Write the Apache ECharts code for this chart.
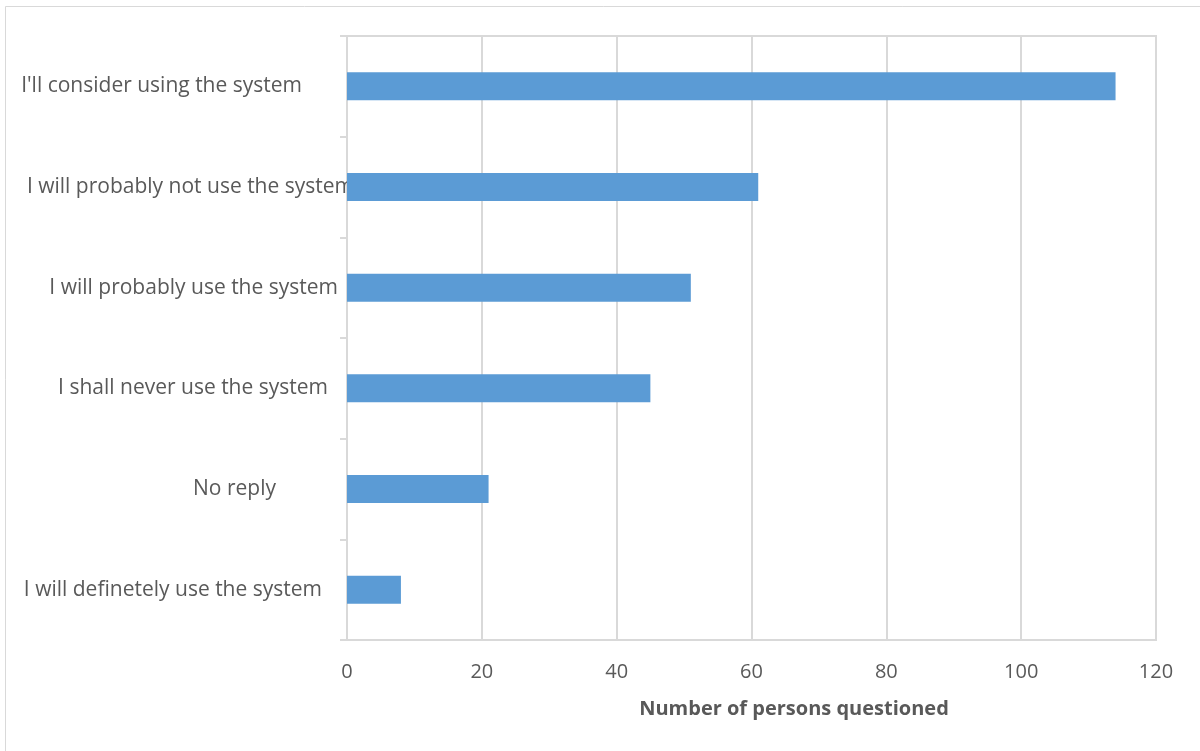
<!DOCTYPE html>
<html>
<head>
<meta charset="utf-8">
<script src="https://cdn.jsdelivr.net/npm/echarts@6/dist/echarts.min.js"></script>
<style>
html,body{margin:0;padding:0;background:#fff;}
#c{width:1200px;height:751px;}
</style>
</head>
<body>
<div id="c"></div>
<script>
const categories = [
  "I will definetely use the system",
  "No reply",
  "I shall never use the system",
  "I will probably use the system",
  "I will probably not use the system",
  "I'll consider using the system"
];
const values = [8, 21, 45, 51, 61, 114];
const xTicks = [0, 20, 40, 60, 80, 100, 120];
const axisTitle = "Number of persons questioned";

// per-label right padding (layout only)
const labelPad = [32, 78, 26, 16, 0, 52];
const rich = {};
labelPad.forEach((p, i) => {
  rich['r' + i] = { fontFamily: 'Open Sans', fontSize: 21, color: '#595959', padding: [0, p, 0, 0] };
});

const chart = echarts.init(document.getElementById('c'), null, { renderer: 'canvas' });
chart.setOption({
  backgroundColor: '#fff',
  animation: false,
  graphic: [{
    type: 'rect', shape: { x: 5.5, y: 6.5, width: 1210, height: 760 },
    style: { fill: 'none', stroke: '#d9d9d9', lineWidth: 1 }, silent: true
  }],
  grid: {
    left: 347, right: 44, top: 36, bottom: 111,
    show: true, borderColor: '#d9d9d9', borderWidth: 2, backgroundColor: 'transparent'
  },
  xAxis: {
    type: 'value', min: xTicks[0], max: xTicks[xTicks.length - 1], interval: 20,
    axisLine: { show: true, lineStyle: { color: '#d9d9d9', width: 2 } },
    axisTick: { show: false },
    splitLine: { show: true, lineStyle: { color: '#d9d9d9', width: 2 } },
    axisLabel: { color: '#595959', fontFamily: 'Open Sans', fontSize: 20, margin: 22 },
    name: axisTitle, nameLocation: 'middle', nameGap: 59,
    nameTextStyle: { color: '#595959', fontFamily: 'Open Sans', fontSize: 20, fontWeight: 'bold', padding: [0, 0, 0, 85] }
  },
  yAxis: {
    type: 'category', data: categories,
    axisLine: { show: true, lineStyle: { color: '#d9d9d9', width: 2 } },
    axisTick: { show: true, length: 7, lineStyle: { color: '#d9d9d9', width: 2 } },
    splitLine: { show: false },
    axisLabel: {
      margin: -7,
      formatter: (v, i) => '{r' + i + '|' + v + '}',
      rich: rich
    }
  },
  series: [{
    type: 'bar', data: values, barWidth: 28,
    itemStyle: { color: '#5b9bd5' }
  }]
});
</script>
</body>
</html>
